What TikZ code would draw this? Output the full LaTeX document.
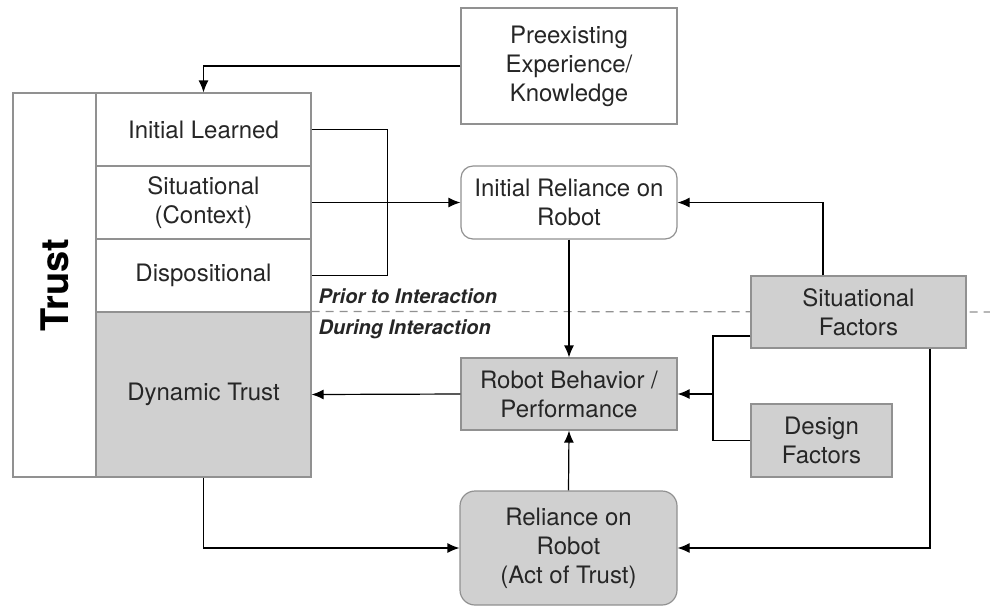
\documentclass[tikz,border=0pt]{standalone}
\usepackage{fontspec}
\setmainfont{TeX Gyre Heros}
\usepackage{tikz}
\usetikzlibrary{arrows.meta,shapes}

\definecolor{boxgrey}{RGB}{208,208,208}
\definecolor{linegrey}{RGB}{145,145,145}

\begin{document}
\begin{tikzpicture}[x=0.5pt,y=-0.5pt,->,>={Latex[length=6pt,width=5pt]},line width=0.6pt,
	plain node/.style={rectangle,draw=linegrey,text=black!85,minimum width=\bw,minimum height=36.5pt,inner sep=0pt,align=center,font=\fontsize{12}{14.5}\selectfont},
	grey node/.style={plain node,fill=boxgrey},
	round node/.style={plain node,rounded corners=6pt},
	trust cell/.style={plain node,rotate=90,minimum width=192pt,minimum height=41.5pt,font=\fontsize{19}{22}\selectfont\bfseries,text=black},
	phase/.style={inner sep=0pt,text=black!85,font=\fontsize{10}{12}\selectfont\bfseries\itshape}
]

	\def \bw {108pt}
	\def \cw {107.5pt}

	\useasboundingbox (0,0) rectangle (990,607);

	% trust column
	\node[trust cell] at (54.5,285) (trust) {Trust};
	\foreach \t [count=\i] in {Initial Learned,{Situational\\(Context)},Dispositional} {
		\node[plain node,minimum width=\cw] at (203.5,{56.5+73*\i}) (l\i) {\t};
	}
	\node[grey node,minimum width=\cw,minimum height=82.5pt] at (203.5,394.5) (dyn) {Dynamic Trust};

	\coordinate (edge) at (990,312);
	\draw[-,linegrey,dash pattern=on 4pt off 3pt] (dyn.north east) -- (edge);
	\node[phase,anchor=base west] at (318,303) (prior) {Prior to Interaction};
	\node[phase,anchor=base west] at (318,334) (during) {During Interaction};

	% boxes
	\node[plain node,minimum height=58pt] at (569,66) (pre) {Preexisting\\Experience/\\Knowledge};
	\node[round node] at (569,202.5) (irel) {Initial Reliance on\\Robot};
	\node[grey node,minimum height=36pt] at (569,394) (beh) {Robot Behavior /\\Performance};
	\node[grey node,rounded corners=7.5pt,minimum width=108.5pt,minimum height=57pt] at (568.5,548) (rel) {Reliance on\\Robot\\(Act of Trust)};
	\node[grey node,minimum width=107.5pt,minimum height=36pt] at (858.5,312) (sit) {Situational\\Factors};
	\node[grey node,minimum width=70.5pt] at (821.5,440.5) (des) {Design\\Factors};

	% connectors
	\draw (pre.west) -| (l1.north);
	\draw[-] (l1.east) -- ++(76,0) |- (l3.east);
	\draw (l2.east) -- (irel.west);
	\draw (irel.south) -- (beh.north);
	\draw ([xshift=-17.75pt]sit.north) |- (irel.east);

	\coordinate (join) at (713,394);
	\draw[-] ([yshift=-12pt]sit.west) -| (join) |- (des.west);
	\draw (join) -- (beh.east);

	\draw (beh.west) -- (dyn.east);
	\draw (rel.north) -- (beh.south);
	\draw (dyn.south) |- (rel.west);
	\draw ([xshift=35.75pt]sit.south) |- (rel.east);
\end{tikzpicture}
\end{document}
